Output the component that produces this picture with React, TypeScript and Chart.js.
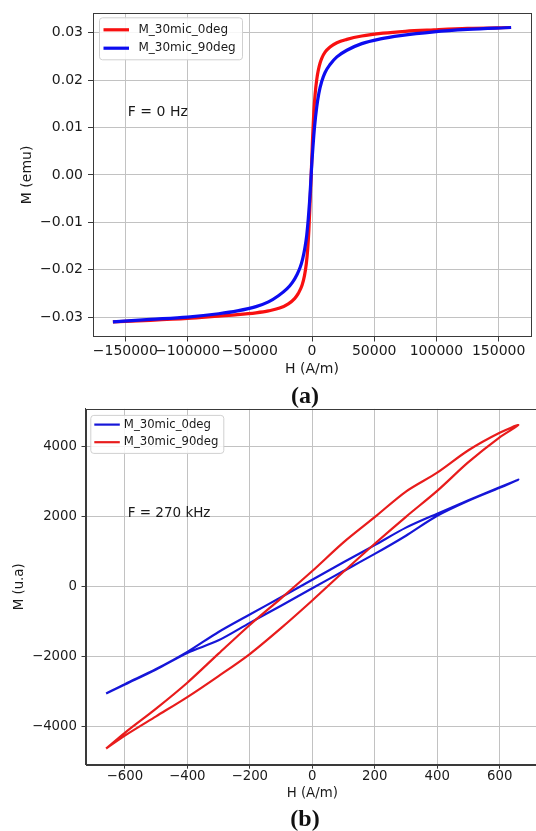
import React, { useEffect, useRef } from 'react';
import { Chart, registerables } from 'chart.js';

Chart.register(...registerables);

// ---------------- Panel (a): F = 0 Hz ----------------
const A_LABELS = ['M_30mic_0deg', 'M_30mic_90deg'];
const A_COLORS = ['#f81010', '#0c0cf0'];

const A_H_0DEG = [
  -160000, -130000, -100000, -75000, -60000, -45000, -35000, -26000, -19000, -14000,
  -11000, -8000, -6000, -4500, -3500, -2500, -1500, -500, 500, 1500,
  2500, 3800, 5000, 6500, 8000, 10500, 14500, 20000, 28000, 40000,
  57000, 75000, 98000, 125000, 160000,
];
const A_M_0DEG = [
  -0.0310, -0.0307, -0.0303, -0.0298, -0.0295, -0.0291, -0.0287, -0.0281, -0.0272, -0.0261,
  -0.0250, -0.0233, -0.0212, -0.0186, -0.0158, -0.0117, -0.0055, 0.0010, 0.0080, 0.0135,
  0.0170, 0.0201, 0.0220, 0.0236, 0.0247, 0.0259, 0.0270, 0.0279, 0.0286, 0.0293,
  0.0299, 0.0303, 0.0306, 0.0309, 0.0311,
];

const A_H_90DEG = [
  -160000, -130000, -100000, -75000, -60000, -45000, -35000, -27000, -20000, -16000,
  -12000, -9500, -7500, -5700, -4300, -3000, -2000, -1000, 0, 800,
  2000, 3800, 5500, 7800, 10500, 14500, 20000, 28000, 40000, 55000,
  71000, 98000, 125000, 160000,
];
const A_M_90DEG = [
  -0.0310, -0.0305, -0.0300, -0.0293, -0.0287, -0.0278, -0.0268, -0.0255, -0.0240, -0.0228,
  -0.0210, -0.0195, -0.0177, -0.0154, -0.0129, -0.0093, -0.0058, -0.0015, 0.0030, 0.0060,
  0.0100, 0.0143, 0.0172, 0.0197, 0.0216, 0.0233, 0.0249, 0.0263, 0.0277, 0.0287,
  0.0294, 0.0302, 0.0307, 0.0311,
];

const A_X_TICKS = [-150000, -100000, -50000, 0, 50000, 100000, 150000];
const A_Y_TICKS = [-0.03, -0.02, -0.01, 0, 0.01, 0.02, 0.03];
const A_X_RANGE = [-176000, 176000];
const A_Y_RANGE = [-0.0341, 0.0341];
const A_TITLE_X = 'H (A/m)';
const A_TITLE_Y = 'M (emu)';
const A_NOTE = 'F = 0 Hz';
const A_NOTE_AT = [-148000, 0.0125];

// ---------------- Panel (b): F = 270 kHz ----------------
const B_LABELS = ['M_30mic_0deg', 'M_30mic_90deg'];
const B_COLORS = ['#1616d8', '#e81c1c'];

const B_H_0DEG = [
  -660, -600, -500, -400, -300, -200, -100, 0, 100, 200, 300, 400, 500, 600, 660,
  600, 500, 400, 300, 200, 100, 0, -100, -200, -300, -400, -500, -600, -660,
];
const B_M_0DEG = [
  -3050, -2790, -2360, -1890, -1530, -1030, -540, -40, 450, 940, 1460, 2030, 2460, 2830, 3060,
  2840, 2470, 2090, 1690, 1190, 700, 200, -300, -790, -1290, -1860, -2350, -2780, -3050,
];

const B_H_90DEG = [
  -660, -600, -500, -400, -300, -200, -100, 0, 100, 200, 300, 400, 500, 600, 660,
  600, 500, 400, 300, 200, 100, 0, -100, -200, -300, -400, -500, -600, -660,
];
const B_M_90DEG = [
  -4620, -4250, -3700, -3150, -2550, -1920, -1180, -390, 430, 1230, 2000, 2740, 3560, 4270, 4620,
  4400, 3900, 3260, 2720, 1990, 1270, 450, -330, -1090, -1910, -2740, -3480, -4170, -4620,
];

const B_X_TICKS = [-600, -400, -200, 0, 200, 400, 600];
const B_Y_TICKS = [-4000, -2000, 0, 2000, 4000];
const B_X_RANGE = [-726, 726];
const B_Y_RANGE = [-5082, 5082];
const B_TITLE_X = 'H (A/m)';
const B_TITLE_Y = 'M (u.a)';
const B_NOTE = 'F = 270 kHz';
const B_NOTE_AT = [-591, 2000];

// ---------------- helpers ----------------
const FAMILY = '"DejaVu Sans", sans-serif';
const TEXT = '#1a1a1a';
const GRID = '#c2c2c2';
const SPINE = '#3a3a3a';

const zip = (xs: number[], ys: number[]) => xs.map((x, i) => ({ x, y: ys[i] }));
const minus = (s: string) => s.replace('-', '\u2212');

type Deco = {
  note: string;
  noteAt: number[];
  noteSize: number;
  labels: string[];
  colors: string[];
  lineWidth: number;
  legend: { dx: number; dy: number; w: number; h: number; rows: number[]; h0: number; h1: number; tx: number; size: number };
};

function decoPlugin(d: Deco) {
  return {
    id: 'deco',
    afterDatasetsDraw(chart: any) {
      const { ctx, chartArea: ca } = chart;
      ctx.save();
      ctx.strokeStyle = SPINE;
      ctx.lineWidth = 1;
      ctx.strokeRect(Math.round(ca.left) + 0.5, Math.round(ca.top) + 0.5, Math.round(ca.right - ca.left), Math.round(ca.bottom - ca.top));
      ctx.restore();
    },
    afterDraw(chart: any) {
      const { ctx, chartArea: ca, scales } = chart;
      ctx.save();
      ctx.fillStyle = TEXT;
      ctx.font = `${d.noteSize}px ${FAMILY}`;
      ctx.textAlign = 'left';
      ctx.textBaseline = 'alphabetic';
      ctx.fillText(d.note, scales.x.getPixelForValue(d.noteAt[0]), scales.y.getPixelForValue(d.noteAt[1]));
      const L = d.legend;
      const fx = ca.left + L.dx;
      const fy = ca.top + L.dy;
      ctx.beginPath();
      (ctx as any).roundRect(fx + 0.5, fy + 0.5, L.w, L.h, 3);
      ctx.fillStyle = 'rgba(255,255,255,0.85)';
      ctx.fill();
      ctx.strokeStyle = '#d0d0d0';
      ctx.lineWidth = 1;
      ctx.stroke();
      ctx.font = `${L.size}px ${FAMILY}`;
      ctx.textBaseline = 'middle';
      d.labels.forEach((lab, i) => {
        const y = fy + L.rows[i];
        ctx.strokeStyle = d.colors[i];
        ctx.lineWidth = d.lineWidth;
        ctx.beginPath();
        ctx.moveTo(fx + L.h0, y);
        ctx.lineTo(fx + L.h1, y);
        ctx.stroke();
        ctx.fillStyle = TEXT;
        ctx.fillText(lab, fx + L.tx, y);
      });
      ctx.restore();
    },
  };
}

type AxisCfg = {
  range: number[];
  ticks: number[];
  fmt: (v: number) => string;
  size: number;
  tickLen: number;
  pad: number;
  title: string;
  titlePad: any;
  fitSize: number;
  horizontal: boolean;
};

function axis(c: AxisCfg) {
  return {
    type: 'linear',
    min: c.range[0],
    max: c.range[1],
    afterBuildTicks: (s: any) => {
      s.ticks = c.ticks.map((v) => ({ value: v }));
    },
    afterFit: (s: any) => {
      if (c.horizontal) s.height = c.fitSize;
      else s.width = c.fitSize;
      s.paddingLeft = 0;
      s.paddingRight = 0;
      s.paddingTop = 0;
      s.paddingBottom = 0;
    },
    ticks: {
      autoSkip: false,
      maxRotation: 0,
      minRotation: 0,
      color: TEXT,
      padding: c.pad,
      font: { family: FAMILY, size: c.size },
      callback: (v: number) => c.fmt(v),
    },
    grid: {
      color: GRID,
      lineWidth: 1,
      drawTicks: true,
      tickLength: c.tickLen,
      tickColor: SPINE,
      tickWidth: 1,
    },
    border: { display: true, color: SPINE, width: 1 },
    title: {
      display: true,
      text: c.title,
      color: TEXT,
      font: { family: FAMILY, size: c.size },
      padding: c.titlePad,
    },
  };
}

export default function App() {
  const refA = useRef<HTMLCanvasElement>(null);
  const refB = useRef<HTMLCanvasElement>(null);

  useEffect(() => {
    const chartA = new Chart(refA.current as HTMLCanvasElement, {
      type: 'line',
      data: {
        datasets: [
          {
            label: A_LABELS[1],
            data: zip(A_H_90DEG, A_M_90DEG),
            borderColor: A_COLORS[1],
            borderWidth: 3.2,
            pointRadius: 0,
            fill: false,
            cubicInterpolationMode: 'monotone',
          },
          {
            label: A_LABELS[0],
            data: zip(A_H_0DEG, A_M_0DEG),
            borderColor: A_COLORS[0],
            borderWidth: 3.2,
            pointRadius: 0,
            fill: false,
            cubicInterpolationMode: 'monotone',
          },
        ],
      } as any,
      options: {
        animation: false,
        responsive: false,
        devicePixelRatio: 1,
        events: [],
        layout: { padding: { left: 0, top: 13.3, right: 5, bottom: 0 } },
        plugins: { legend: { display: false }, tooltip: { enabled: false } },
        scales: {
          x: axis({
            range: A_X_RANGE, ticks: A_X_TICKS, fmt: (v) => minus(String(v)), size: 14,
            tickLen: 5, pad: 1.5, title: A_TITLE_X, titlePad: { top: 0, bottom: 7.3 },
            fitSize: 48.5, horizontal: true,
          }),
          y: axis({
            range: A_Y_RANGE, ticks: A_Y_TICKS,
            fmt: (v) => (Math.abs(v) < 1e-12 ? '0.00' : minus(v.toFixed(2))), size: 14,
            tickLen: 5, pad: 5, title: A_TITLE_Y, titlePad: { top: 19.3, bottom: 0 },
            fitSize: 93, horizontal: false,
          }),
        },
      } as any,
      plugins: [
        decoPlugin({
          note: A_NOTE, noteAt: A_NOTE_AT, noteSize: 14,
          labels: A_LABELS, colors: A_COLORS, lineWidth: 3.2,
          legend: { dx: 6, dy: 4, w: 143, h: 42, rows: [12.5, 30.9], h0: 4.5, h1: 30, tx: 39.5, size: 12 },
        }),
      ],
    });

    const chartB = new Chart(refB.current as HTMLCanvasElement, {
      type: 'line',
      data: {
        datasets: [
          {
            label: B_LABELS[1],
            data: zip(B_H_90DEG, B_M_90DEG),
            borderColor: B_COLORS[1],
            borderWidth: 2.2,
            pointRadius: 0,
            fill: false,
            tension: 0.3,
          },
          {
            label: B_LABELS[0],
            data: zip(B_H_0DEG, B_M_0DEG),
            borderColor: B_COLORS[0],
            borderWidth: 2.2,
            pointRadius: 0,
            fill: false,
            tension: 0.3,
          },
        ],
      } as any,
      options: {
        animation: false,
        responsive: false,
        devicePixelRatio: 1,
        events: [],
        layout: { padding: { left: 0, top: 8.9, right: 6, bottom: 0 } },
        plugins: { legend: { display: false }, tooltip: { enabled: false } },
        scales: {
          x: axis({
            range: B_X_RANGE, ticks: B_X_TICKS, fmt: (v) => minus(String(v)), size: 13.3,
            tickLen: 4, pad: 0, title: B_TITLE_X, titlePad: { top: 0, bottom: 8.7 },
            fitSize: 45.3, horizontal: true,
          }),
          y: axis({
            range: B_Y_RANGE, ticks: B_Y_TICKS, fmt: (v) => minus(String(v)), size: 13.3,
            tickLen: 4, pad: 4.5, title: B_TITLE_Y, titlePad: { top: 11.7, bottom: 0 },
            fitSize: 85.5, horizontal: false,
          }),
        },
      } as any,
      plugins: [
        decoPlugin({
          note: B_NOTE, noteAt: B_NOTE_AT, noteSize: 13.5,
          labels: B_LABELS, colors: B_COLORS, lineWidth: 2.2,
          legend: { dx: 4.8, dy: 6, w: 133, h: 38, rows: [9.7, 27.3], h0: 4, h1: 29.5, tx: 33.5, size: 11.7 },
        }),
      ],
    });

    return () => {
      chartA.destroy();
      chartB.destroy();
    };
  }, []);

  const caption: React.CSSProperties = {
    position: 'absolute',
    left: 255,
    width: 100,
    textAlign: 'center',
    font: 'bold 24px "Liberation Serif", "Times New Roman", serif',
    lineHeight: '24px',
    color: '#111',
  };

  return (
    <div style={{ position: 'absolute', left: 0, top: 0, width: 536, height: 831, overflow: 'hidden', background: '#ffffff' }}>
      <canvas ref={refA} width={536} height={385} style={{ position: 'absolute', left: 0, top: 0, width: 536, height: 385 }} />
      <div style={{ ...caption, top: 382.7 }}>(a)</div>
      <canvas ref={refB} width={545} height={410} style={{ position: 'absolute', left: 0, top: 400, width: 545, height: 410 }} />
      <div style={{ ...caption, top: 806 }}>(b)</div>
    </div>
  );
}
